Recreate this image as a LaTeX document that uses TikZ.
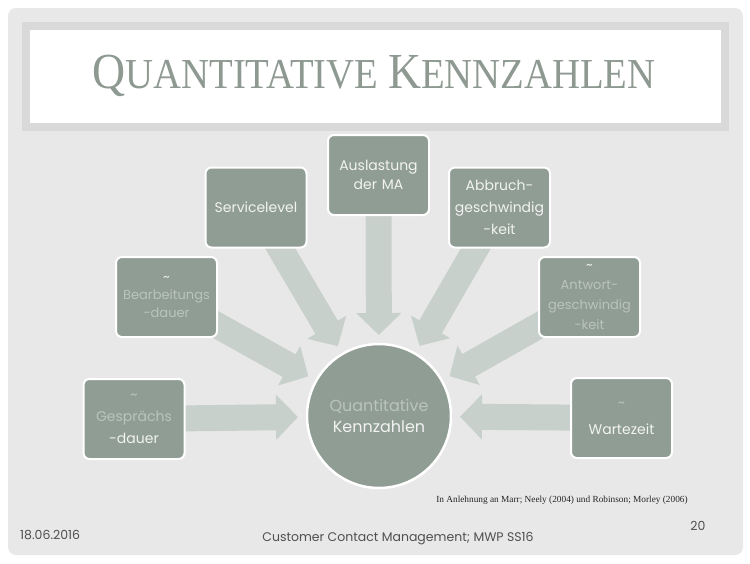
\documentclass[tikz,border=0pt]{standalone}
\usepackage{fontspec}
\setmainfont{Poppins}
\newfontfamily\tnr{Liberation Serif}
\usetikzlibrary{arrows.meta,calc}
\definecolor{slidebg}{HTML}{E8E8E8}
\definecolor{band}{HTML}{D9D9D9}
\definecolor{boxc}{HTML}{8F9D94}
\definecolor{arrowc}{HTML}{C8D0CB}
\definecolor{titlec}{HTML}{8E9992}
\definecolor{blurc}{HTML}{BAC4BE}
\definecolor{clearc}{HTML}{F2F2F2}
\definecolor{footc}{HTML}{505050}
\tikzset{
  kbox/.style={draw=white, line width=2pt, fill=boxc, rounded corners=6pt,
    minimum width=101pt, minimum height=80pt, inner sep=0pt, text width=100pt,
    align=center, text=clearc, font=\fontsize{14}{22}\selectfont},
  hub/.style={circle, draw=white, line width=2.5pt, fill=boxc, minimum size=144pt,
    inner sep=0pt, align=center, text=clearc, font=\fontsize{16}{21}\selectfont},
  flow/.style={draw=arrowc, line width=26pt, -{Triangle[width=44pt,length=22pt]}},
  foot/.style={text=footc, inner sep=0pt, font=\fontsize{12.5}{14}\selectfont}
}
\newcommand{\blr}[1]{\textcolor{blurc}{#1}}
\begin{document}
\begin{tikzpicture}[x=1pt,y=-1pt]
\useasboundingbox (0,0) rectangle (750,563);
\fill[white] (0,0) rectangle (750,563);
\fill[slidebg, rounded corners=8pt] (8,8) rectangle (743,555);
\fill[band] (22,22) rectangle (729,131);
\fill[white] (30,30) rectangle (721,123);
\node[text=titlec, inner sep=0pt] (title) at (374,76)
  {\tnr\scalebox{0.88}[0.97]{{\fontsize{52}{52}\selectfont Q}{\fontsize{44}{44}\selectfont UANTITATIVE }{\fontsize{52}{52}\selectfont K}{\fontsize{44}{44}\selectfont ENNZAHLEN}}};
\coordinate (hc) at (379,416);
\coordinate (pGes) at (134,419);
\coordinate (pBear) at (166.5,297);
\coordinate (pServ) at (256,207.5);
\coordinate (pAusl) at (378.5,175);
\coordinate (pAbb) at (499.5,207.5);
\coordinate (pAntw) at (589.5,297);
\coordinate (pWart) at (621.5,418);
\foreach \p in {pGes,pBear,pServ,pAusl,pAbb,pAntw,pWart}{
  \draw[flow] (\p) -- ($(hc)!81pt!(\p)$);
}
\node[kbox] (ges) at (pGes) {\blr{\textasciitilde}\\\blr{Gesprächs}\\-dauer};
\node[kbox, font=\fontsize{13}{18}\selectfont] (bear) at (pBear) {\textasciitilde\\\blr{Bearbeitungs}\\\blr{-dauer}};
\node[kbox] (serv) at (pServ) {Servicelevel};
\node[kbox, font=\fontsize{14}{19}\selectfont] (ausl) at (pAusl) {Auslastung\\der MA\\[8pt]};
\node[kbox] (abb) at (pAbb) {Abbruch-\\geschwindig\\-keit};
\node[kbox, font=\fontsize{13}{20}\selectfont] (antw) at (pAntw) {\textasciitilde\\\blr{Antwort-}\\\blr{geschwindig}\\\blr{-keit}};
\node[kbox, font=\fontsize{14}{27}\selectfont] (wart) at (pWart) {\blr{\textasciitilde}\\Wartezeit};
\node[hub] (hub) at (hc) {\blr{Quantitative}\\Kennzahlen};
\node[inner sep=0pt, text=black!85, font=\tnr\fontsize{9.3}{11}\selectfont] (cite) at (562,500)
  {In Anlehnung an Marr; Neely (2004) und Robinson; Morley (2006)};
\node[foot, anchor=west] (date) at (20,535) {18.06.2016};
\node[foot] (course) at (398,539) {Customer Contact Management; MWP SS16};
\node[foot] (page) at (698,526) {20};
\end{tikzpicture}
\end{document}
